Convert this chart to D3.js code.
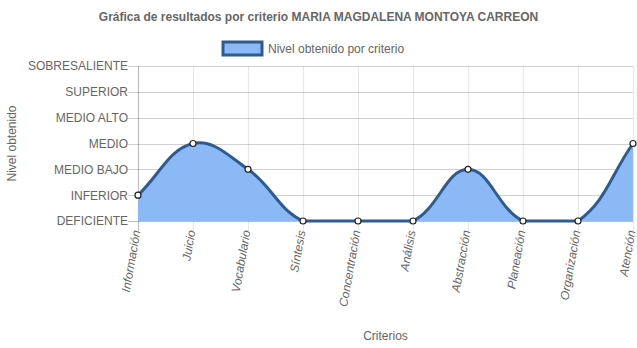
<!DOCTYPE html>
<html>
<head>
<meta charset="utf-8">
<script src="https://cdn.jsdelivr.net/npm/d3@7/dist/d3.min.js"></script>
<style>
  html, body { margin: 0; padding: 0; background: #fff; }
  svg { display: block; font-family: "Liberation Sans", Arial, Helvetica, sans-serif; }
</style>
</head>
<body>
<svg id="chart" width="637" height="348"></svg>
<script>
// Criteria evaluated and the level reached in each
const criterios = ["Información", "Juicio", "Vocabulario", "Síntesis", "Concentración",
                   "Análisis", "Abstracción", "Planeación", "Organización", "Atención"];
const niveles = [1, 3, 2, 0, 0, 0, 2, 0, 0, 3];
const nivelLabels = ["DEFICIENTE", "INFERIOR", "MEDIO BAJO", "MEDIO", "MEDIO ALTO", "SUPERIOR", "SOBRESALIENTE"];

const titulo = "Gráfica de resultados por criterio MARIA MAGDALENA MONTOYA CARREON";
const serieNombre = "Nivel obtenido por criterio";

const W = 637, H = 348;
const area = { left: 138, right: 633, top: 66, bottom: 221 };

const fillColor = "#8ab9f6";
const lineColor = "#2f5b90";
const textColor = "#666";

const svg = d3.select("#chart");

const x = d3.scalePoint().domain(criterios).range([area.left, area.right]);
const y = d3.scaleLinear().domain([0, nivelLabels.length - 1]).range([area.bottom, area.top]);

// Title
svg.append("text")
  .attr("x", W / 2).attr("y", 21)
  .attr("text-anchor", "middle")
  .attr("font-size", 12).attr("font-weight", "bold")
  .attr("fill", textColor)
  .text(titulo);

// Legend
const legend = svg.append("g");
legend.append("rect")
  .attr("x", 223).attr("y", 42).attr("width", 39).attr("height", 13)
  .attr("fill", fillColor).attr("stroke", lineColor).attr("stroke-width", 3);
legend.append("text")
  .attr("x", 268).attr("y", 53)
  .attr("font-size", 12).attr("fill", textColor)
  .text(serieNombre);

// Gridlines
const grid = svg.append("g");
grid.selectAll("line.h")
  .data(d3.range(nivelLabels.length))
  .join("line")
  .attr("class", "h")
  .attr("x1", area.left - 10).attr("x2", area.right)
  .attr("y1", d => Math.round(y(d)) + 0.5).attr("y2", d => Math.round(y(d)) + 0.5)
  .attr("stroke", d => d === 0 ? "rgba(0,0,0,0.25)" : "rgba(0,0,0,0.18)")
  .attr("stroke-width", 1.2);
grid.selectAll("line.v")
  .data(criterios)
  .join("line")
  .attr("class", "v")
  .attr("y1", area.top).attr("y2", area.bottom + 10)
  .attr("x1", d => Math.round(x(d)) + 0.5).attr("x2", d => Math.round(x(d)) + 0.5)
  .attr("stroke", (d, i) => i === 0 ? "rgba(0,0,0,0.25)" : "rgba(0,0,0,0.09)")
  .attr("stroke-width", 1.2);

// Y tick labels
const yAxis = d3.axisLeft(y)
  .tickValues(d3.range(nivelLabels.length))
  .tickFormat(d => nivelLabels[d])
  .tickSize(0).tickPadding(10);
const gy = svg.append("g").attr("transform", `translate(${area.left},0)`).call(yAxis);
gy.select(".domain").remove();
gy.selectAll("text")
  .attr("font-size", 12).attr("fill", textColor)
  .attr("font-family", "'Liberation Sans', Arial, sans-serif");

// X tick labels, rotated
const gx = svg.append("g");
gx.selectAll("text")
  .data(criterios)
  .join("text")
  .attr("transform", d => `translate(${x(d) + 2.5},${area.bottom + 10}) rotate(-80)`)
  .attr("text-anchor", "end")
  .attr("font-size", 12).attr("font-style", "italic")
  .attr("fill", textColor)
  .text(d => d);

// Axis titles
svg.append("text")
  .attr("transform", `translate(16,${(area.top + area.bottom) / 2}) rotate(-90)`)
  .attr("text-anchor", "middle")
  .attr("font-size", 12).attr("fill", textColor)
  .text("Nivel obtenido");
svg.append("text")
  .attr("x", (area.left + area.right) / 2).attr("y", 340)
  .attr("text-anchor", "middle")
  .attr("font-size", 12).attr("fill", textColor)
  .text("Criterios");

// Cardinal-like spline with tension 0.4, control points capped to the plot area
const pts = niveles.map((v, i) => ({ x: x(criterios[i]), y: y(v) }));
const tension = 0.4;
const ctrl = pts.map((cur, i) => {
  const prev = i > 0 ? pts[i - 1] : cur;
  const next = i < pts.length - 1 ? pts[i + 1] : cur;
  const d01 = Math.hypot(cur.x - prev.x, cur.y - prev.y);
  const d12 = Math.hypot(next.x - cur.x, next.y - cur.y);
  let s01 = d01 / (d01 + d12), s12 = d12 / (d01 + d12);
  if (isNaN(s01)) s01 = 0;
  if (isNaN(s12)) s12 = 0;
  const fa = tension * s01, fb = tension * s12;
  const cap = p => ({
    x: Math.max(area.left, Math.min(area.right, p.x)),
    y: Math.max(area.top, Math.min(area.bottom, p.y))
  });
  return {
    before: cap({ x: cur.x - fa * (next.x - prev.x), y: cur.y - fa * (next.y - prev.y) }),
    after: cap({ x: cur.x + fb * (next.x - prev.x), y: cur.y + fb * (next.y - prev.y) })
  };
});

const curvePath = d3.path();
curvePath.moveTo(pts[0].x, pts[0].y);
for (let i = 1; i < pts.length; i++) {
  const a = ctrl[i - 1].after, b = ctrl[i].before;
  curvePath.bezierCurveTo(a.x, a.y, b.x, b.y, pts[i].x, pts[i].y);
}
const lineD = curvePath.toString();
const areaD = lineD + `L${pts[pts.length - 1].x},${y(0)}L${pts[0].x},${y(0)}Z`;

svg.append("path").attr("d", areaD).attr("fill", fillColor);
svg.append("path").attr("d", lineD)
  .attr("fill", "none").attr("stroke", lineColor).attr("stroke-width", 3);

// Points
svg.append("g").selectAll("circle")
  .data(pts)
  .join("circle")
  .attr("cx", d => d.x).attr("cy", d => d.y).attr("r", 3)
  .attr("fill", "#fff").attr("stroke", "#222").attr("stroke-width", 1.2);
</script>
</body>
</html>
